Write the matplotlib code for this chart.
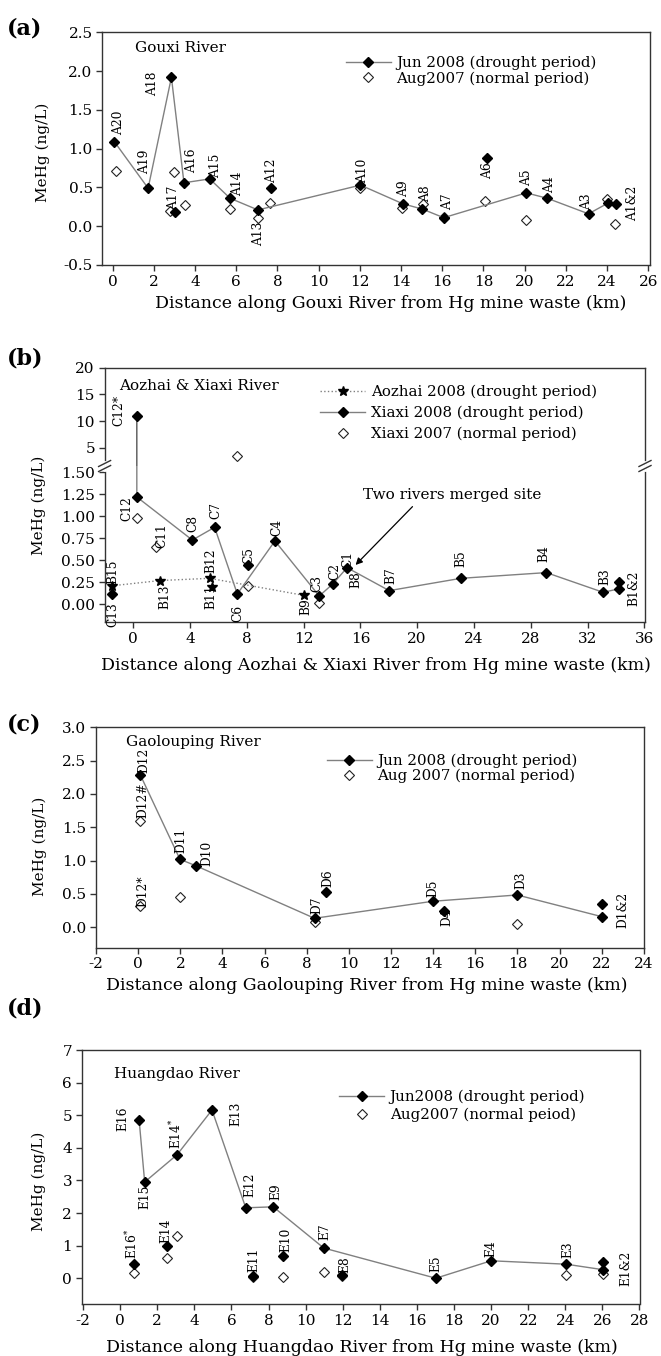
import matplotlib
matplotlib.use('Agg')
import matplotlib.pyplot as plt
from matplotlib.lines import Line2D

# ---------------- DATA ----------------
# Panel (a) Gouxi River
a_jun_line_x = [0.08, 1.72, 2.85, 3.46, 4.71, 5.70, 7.05, 12.03, 14.08, 15.04, 16.07, 20.08, 21.1, 23.1, 24.06]
a_jun_line_y = [1.09, 0.49, 1.92, 0.56, 0.61, 0.36, 0.21, 0.53, 0.29, 0.22, 0.11, 0.43, 0.36, 0.16, 0.30]
a_jun_other_x = [3.03, 7.68, 18.16, 24.45]
a_jun_other_y = [0.18, 0.49, 0.88, 0.29]
a_aug_x = [0.14, 2.8, 3.0, 3.52, 5.7, 7.05, 7.64, 12.03, 14.04, 15.06, 16.07, 18.07, 20.08, 24.0, 24.4]
a_aug_y = [0.71, 0.19, 0.70, 0.27, 0.22, 0.10, 0.30, 0.49, 0.24, 0.29, 0.125, 0.32, 0.08, 0.35, 0.03]
a_site_labels = ["A20", "A19", "A18", "A17", "A16", "A15", "A14", "A13", "A12", "A10",
                 "A9", "A8", "A7", "A6", "A5", "A4", "A3", "A1&2"]
a_xticks = list(range(0, 27, 2))
a_yticks = [-0.5, 0.0, 0.5, 1.0, 1.5, 2.0, 2.5]

# Panel (b) Aozhai & Xiaxi River
b_xiaxi08_line_x = [0.25, 0.25, 4.16, 5.73, 7.33, 9.98, 13.1, 14.05, 15.06, 18.03, 23.08, 29.1, 33.1, 34.2]
b_xiaxi08_line_y = [11.0, 1.22, 0.73, 0.875, 0.117, 0.72, 0.094, 0.23, 0.416, 0.155, 0.295, 0.36, 0.136, 0.175]
b_xiaxi08_other_x = [-1.5, 8.05, 34.2]
b_xiaxi08_other_y = [0.113, 0.447, 0.255]
b_xiaxi07_x = [0.27, 1.6, 7.34, 8.05, 13.1]
b_xiaxi07_y = [0.98, 0.655, 3.4, 0.21, 0.02]
b_aozhai_line_x = [-1.5, 1.9, 5.38, 12.06]
b_aozhai_line_y = [0.21, 0.27, 0.295, 0.10]
b_aozhai_other_x = [5.55]
b_aozhai_other_y = [0.20]
b_site_labels = ["C13", "B15", "C12", "C11", "B13", "C8", "C7", "B12", "B11", "C6", "C5", "C4",
                 "B9", "C3", "C2", "C1", "B8", "B7", "B5", "B4", "B3", "B1&2"]
b_top_label = "C12*"
b_xticks = list(range(0, 37, 4))
b_yticks_low = [0.0, 0.25, 0.5, 0.75, 1.0, 1.25, 1.5]
b_yticks_high = [5, 10, 15, 20]

# Panel (c) Gaolouping River
c_jun_line_x = [0.1, 1.98, 2.76, 8.37, 13.97, 17.99, 22.0]
c_jun_line_y = [2.285, 1.02, 0.92, 0.135, 0.39, 0.485, 0.16]
c_jun_other_x = [8.89, 14.5, 22.0]
c_jun_other_y = [0.525, 0.25, 0.35]
c_aug_x = [0.1, 0.1, 2.0, 8.37, 18.0]
c_aug_y = [1.6, 0.32, 0.46, 0.085, 0.045]
c_site_labels = ["D12", "D12#", "D12*", "D11", "D10", "D7", "D6", "D5", "D4", "D3", "D1&2"]
c_xticks = list(range(-2, 25, 2))
c_yticks = [0.0, 0.5, 1.0, 1.5, 2.0, 2.5, 3.0]

# Panel (d) Huangdao River
d_jun_line_x = [1.02, 1.32, 3.07, 4.95, 6.77, 8.25, 10.98, 17.02, 20.0, 24.05, 26.05]
d_jun_line_y = [4.86, 2.95, 3.79, 5.16, 2.16, 2.19, 0.925, 0.0, 0.535, 0.43, 0.26]
d_jun_other_x = [0.75, 2.55, 7.15, 8.77, 11.98, 26.05]
d_jun_other_y = [0.44, 0.98, 0.08, 0.67, 0.10, 0.49]
d_aug_x = [0.75, 2.55, 3.07, 7.16, 8.77, 10.98, 11.98, 24.05, 26.05]
d_aug_y = [0.175, 0.62, 1.31, 0.04, 0.04, 0.20, 0.07, 0.10, 0.12]
d_site_labels = ["E16$^{*}$", "E14", "E15", "E16", "E14$^{*}$", "E13", "E12", "E9", "E11", "E10",
                 "E7", "E8", "E5", "E4", "E3", "E1&2"]
d_xticks = list(range(-2, 29, 2))
d_yticks = list(range(0, 8))

# ---------------- LAYOUT (label anchor positions, data coords) ----------------
a_label_pos = [(0.3, 1.33), (1.54, 0.83), (1.95, 1.84), (2.95, 0.36), (3.83, 0.85), (4.98, 0.78),
               (6.05, 0.55), (7.1, -0.10), (7.73, 0.72), (12.13, 0.71), (14.14, 0.48), (15.2, 0.42),
               (16.25, 0.31), (18.18, 0.72), (20.1, 0.63), (21.2, 0.53), (23.0, 0.32), (25.25, 0.29)]
b_label_pos = [(-1.43, -0.12), (-1.43, 0.37), (-0.48, 1.09), (2.0, 0.78), (2.2, 0.09), (4.2, 0.92),
               (5.82, 1.07), (5.46, 0.50), (5.46, 0.09), (7.4, -0.10), (8.14, 0.55), (10.13, 0.87),
               (12.15, -0.03), (12.9, 0.24), (14.17, 0.37), (15.15, 0.51), (15.65, 0.28), (18.15, 0.33),
               (23.1, 0.52), (28.9, 0.58), (33.2, 0.31), (35.3, 0.18)]
b_top_label_pos = (-0.98, 11.9)
c_label_pos = [(0.26, 2.5), (0.2, 1.91), (0.2, 0.535), (2.04, 1.31), (3.24, 1.11), (8.49, 0.335),
               (9.0, 0.735), (14.01, 0.585), (14.65, 0.15), (18.15, 0.71), (23.0, 0.26)]
d_label_pos = [(0.62, 1.05), (2.45, 1.45), (1.35, 2.51), (0.12, 4.88), (3.0, 4.45), (6.25, 5.03),
               (6.98, 2.88), (8.4, 2.67), (7.23, 0.565), (8.93, 1.18), (11.02, 1.44), (12.11, 0.41),
               (17.02, 0.46), (20.0, 0.92), (24.16, 0.89), (27.25, 0.31)]

W, H = 661, 1356
plt.rcParams['font.family'] = ['DejaVu Serif']
plt.rcParams['mathtext.fontset'] = 'dejavuserif'
plt.rcParams['axes.unicode_minus'] = False

GRAY = '#808080'
SPINE = '#333333'
MS = 5.0
LBL = 8.8

fig = plt.figure(figsize=(W / 100, H / 100), dpi=100)


def fx(px):
    return px / W


def fy(py):
    return 1 - py / H


def axrect(l, t, r, b):
    return [fx(l), fy(b), (r - l) / W, (b - t) / H]


def style(ax):
    for s in ax.spines.values():
        s.set_linewidth(1.0)
        s.set_color(SPINE)
    ax.tick_params(direction='out', length=4, width=1, labelsize=11, pad=3,
                   color=SPINE, top=False, right=False)


def jun_series(ax, lx, ly, ox, oy):
    ax.plot(lx, ly, color=GRAY, lw=1.0, marker='D', ms=MS, mfc='black', mec='black', zorder=3)
    ax.plot(ox, oy, ls='none', marker='D', ms=MS, mfc='black', mec='black', zorder=3)


def aug_series(ax, x, y):
    ax.plot(x, y, ls='none', marker='D', ms=MS, mfc='white', mec='#222222', mew=0.8, zorder=2)


def site_labels(ax, texts, pos):
    for t, (x, y) in zip(texts, pos):
        ax.text(x, y, t, rotation=90, ha='center', va='center', fontsize=LBL, zorder=4)


def legend(ax, handles, labels, x_px, top_px, spacing):
    ax.legend(handles, labels, loc='upper left', bbox_to_anchor=(fx(x_px), fy(top_px)),
              bbox_transform=fig.transFigure, frameon=False, fontsize=10.8,
              handlelength=3.0, handletextpad=0.35, labelspacing=spacing,
              borderpad=0, borderaxespad=0)


h_jun = Line2D([], [], color=GRAY, lw=1.0, marker='D', ms=MS, mfc='black', mec='black')
h_aug = Line2D([], [], ls='none', marker='D', ms=MS, mfc='white', mec='#222222', mew=0.8)
h_aoz = Line2D([], [], color=GRAY, lw=1.0, ls=':', marker='*', ms=7, mfc='black', mec='black')

# ---------------- Panel (a) ----------------
axA = fig.add_axes(axrect(102.4, 32.3, 650.3, 265.0))
style(axA)
aug_series(axA, a_aug_x, a_aug_y)
jun_series(axA, a_jun_line_x, a_jun_line_y, a_jun_other_x, a_jun_other_y)
site_labels(axA, a_site_labels, a_label_pos)
axA.set_xlim(-0.5, 26.1)
axA.set_ylim(-0.5, 2.5)
axA.set_xticks(a_xticks)
axA.set_yticks(a_yticks)
axA.set_yticklabels([f"{v:.1f}" for v in a_yticks])
legend(axA, [h_jun, h_aug], ["Jun 2008 (drought period)", "Aug2007 (normal period)"], 345.7, 56.0, 0.05)

# ---------------- Panel (b) ----------------
axBt = fig.add_axes(axrect(104.6, 367.7, 645.0, 466.0))
axB = fig.add_axes(axrect(104.6, 466.0, 645.0, 622.3))
LOW_YMAX = 1.572
TOP_YMIN = LOW_YMAX
for ax in (axBt, axB):
    style(ax)
    ax.set_xlim(-2.02, 36.05)
axBt.set_ylim(TOP_YMIN, 20)
axB.set_ylim(-0.205, LOW_YMAX)

# lower (main) part
axB.plot(b_aozhai_line_x, b_aozhai_line_y, color=GRAY, lw=1.0, ls=':', marker='*', ms=7,
         mfc='black', mec='black', zorder=3)
axB.plot(b_aozhai_other_x, b_aozhai_other_y, ls='none', marker='*', ms=7, mfc='black',
         mec='black', zorder=3)
aug_series(axB, b_xiaxi07_x, b_xiaxi07_y)
jun_series(axB, b_xiaxi08_line_x, b_xiaxi08_line_y, b_xiaxi08_other_x, b_xiaxi08_other_y)

# upper (broken) part: line segments plus only the markers that lie within its range
axBt.plot(b_xiaxi08_line_x, b_xiaxi08_line_y, color='#555555', lw=1.0, zorder=3)
hi_j = [(x, y) for x, y in zip(b_xiaxi08_line_x, b_xiaxi08_line_y) if y > TOP_YMIN]
axBt.plot([p[0] for p in hi_j], [p[1] for p in hi_j], ls='none', marker='D', ms=MS,
          mfc='black', mec='black', zorder=3)
hi_a = [(x, y) for x, y in zip(b_xiaxi07_x, b_xiaxi07_y) if y > TOP_YMIN]
aug_series(axBt, [p[0] for p in hi_a], [p[1] for p in hi_a])

axBt.spines['bottom'].set_visible(False)
axB.spines['top'].set_visible(False)
axBt.tick_params(bottom=False, labelbottom=False)
axBt.set_yticks(b_yticks_high)
axB.set_yticks(b_yticks_low)
axB.set_yticklabels([f"{v:.2f}" for v in b_yticks_low])
axB.set_xticks(b_xticks)
site_labels(axB, b_site_labels, b_label_pos)
axBt.text(b_top_label_pos[0], b_top_label_pos[1], b_top_label, rotation=90, ha='center',
          va='center', fontsize=LBL)
legend(axBt, [h_aoz, h_jun, h_aug],
       ["Aozhai 2008 (drought period)", "Xiaxi 2008 (drought period)", "Xiaxi 2007 (normal period)"],
       320.4, 384.5, 0.45)
axB.annotate("", xy=(15.66, 0.447), xytext=(19.67, 1.11),
             arrowprops=dict(arrowstyle='-|>', color='black', lw=0.9, mutation_scale=10,
                             shrinkA=0, shrinkB=0))
axB.text(22.5, 1.24, "Two rivers merged site", fontsize=11, ha='center', va='center')

# break marks
for xb in (104.6, 645.0):
    fig.add_artist(Line2D([fx(xb), fx(xb)], [fy(462), fy(470)], color='white', lw=2.0,
                          transform=fig.transFigure, zorder=10))
    for dy in (-2.5, 2.5):
        fig.add_artist(Line2D([fx(xb - 6), fx(xb + 6)], [fy(466 + dy + 3), fy(466 + dy - 3)],
                              color=SPINE, lw=1.0, transform=fig.transFigure, zorder=11))

# ---------------- Panel (c) ----------------
axC = fig.add_axes(axrect(96.1, 727.3, 643.8, 947.7))
style(axC)
aug_series(axC, c_aug_x, c_aug_y)
jun_series(axC, c_jun_line_x, c_jun_line_y, c_jun_other_x, c_jun_other_y)
site_labels(axC, c_site_labels, c_label_pos)
axC.set_xlim(-2, 24)
axC.set_ylim(-0.306, 3.0)
axC.set_xticks(c_xticks)
axC.set_yticks(c_yticks)
axC.set_yticklabels([f"{v:.1f}" for v in c_yticks])
legend(axC, [h_jun, h_aug], ["Jun 2008 (drought period)", "Aug 2007 (normal period)"], 326.7, 754.0, 0.0)

# ---------------- Panel (d) ----------------
axD = fig.add_axes(axrect(81.8, 1050.0, 639.5, 1304.3))
style(axD)
aug_series(axD, d_aug_x, d_aug_y)
jun_series(axD, d_jun_line_x, d_jun_line_y, d_jun_other_x, d_jun_other_y)
site_labels(axD, d_site_labels, d_label_pos)
axD.set_xlim(-2.07, 28)
axD.set_ylim(-0.8, 7)
axD.set_xticks(d_xticks)
axD.set_yticks(d_yticks)
legend(axD, [h_jun, h_aug], ["Jun2008 (drought period)", "Aug2007 (normal peiod)"], 339.4, 1089.5, 0.25)

# ---------------- Text: panel letters, titles, axis labels ----------------
def ftext(px, py, s, **kw):
    fig.text(fx(px), fy(py), s, **kw)

for letter, py in (("(a)", 28.3), ("(b)", 358.0), ("(c)", 725.0), ("(d)", 1008.0)):
    ftext(7, py, letter, fontsize=16, fontweight='bold', ha='left', va='center')

ftext(135.0, 48.3, "Gouxi River", fontsize=11, ha='left', va='center')
ftext(119.3, 385.7, "Aozhai & Xiaxi River", fontsize=11, ha='left', va='center')
ftext(126.5, 741.7, "Gaolouping River", fontsize=11, ha='left', va='center')
ftext(113.8, 1074.3, "Huangdao River", fontsize=11, ha='left', va='center')

for px, py in ((43, 152), (39, 505), (40, 846), (39, 1181)):
    ftext(px, py, "MeHg (ng/L)", fontsize=11, rotation=90, ha='center', va='center')

ftext(391, 303, "Distance along Gouxi River from Hg mine waste (km)", fontsize=12.5, ha='center', va='center')
ftext(376, 665, "Distance along Aozhai & Xiaxi River from Hg mine waste (km)", fontsize=12.5, ha='center', va='center')
ftext(367, 985, "Distance along Gaolouping River from Hg mine waste (km)", fontsize=12.5, ha='center', va='center')
ftext(362, 1348, "Distance along Huangdao River from Hg mine waste (km)", fontsize=12.5, ha='center', va='center')

fig.savefig("out.png", dpi=100)
